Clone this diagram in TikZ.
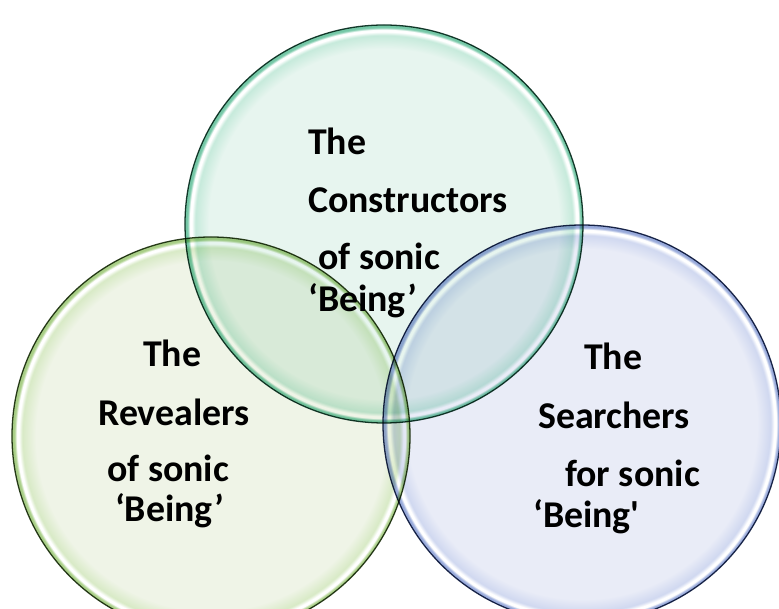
\documentclass[tikz,border=0pt]{standalone}
\usepackage{fontspec}
\setmainfont{Carlito}
\usetikzlibrary{positioning}
\definecolor{tealin}{HTML}{E7F5EF}
\definecolor{tealmid}{HTML}{C6EADB}
\definecolor{tealrim}{HTML}{74C7A6}
\definecolor{tealline}{HTML}{1B3F33}
\definecolor{greenin}{HTML}{EFF4E7}
\definecolor{greenmid}{HTML}{D8EAC6}
\definecolor{greenrim}{HTML}{A8CE86}
\definecolor{greenline}{HTML}{2E4020}
\definecolor{bluein}{HTML}{E9ECF7}
\definecolor{bluemid}{HTML}{D0D8F0}
\definecolor{bluerim}{HTML}{97A9DA}
\definecolor{blueline}{HTML}{1F2C4E}
\pgfdeclareradialshading{tealring}{\pgfpoint{0bp}{0bp}}{color(0bp)=(tealin); color(22bp)=(tealin); color(23.7bp)=(tealmid); color(24.15bp)=(white); color(24.4bp)=(white); color(24.7bp)=(tealrim); color(25bp)=(tealrim); color(50bp)=(tealrim)}
\pgfdeclareradialshading{greenring}{\pgfpoint{0bp}{0bp}}{color(0bp)=(greenin); color(22bp)=(greenin); color(23.7bp)=(greenmid); color(24.15bp)=(white); color(24.4bp)=(white); color(24.7bp)=(greenrim); color(25bp)=(greenrim); color(50bp)=(greenrim)}
\pgfdeclareradialshading{bluering}{\pgfpoint{0bp}{0bp}}{color(0bp)=(bluein); color(22bp)=(bluein); color(23.7bp)=(bluemid); color(24.15bp)=(white); color(24.4bp)=(white); color(24.7bp)=(bluerim); color(25bp)=(bluerim); color(50bp)=(bluerim)}
\tikzset{rim/.style = {draw = #1, line width = 1.1pt}}
\tikzset{lbl/.style = {anchor = base west, inner sep = 0, text depth = 0pt, font = \fontsize{32.3}{36}\selectfont\bfseries}}

\begin{document}
\begin{tikzpicture}[x = 0.03cm, y = 0.03cm]
    \useasboundingbox (0, 0) rectangle (779, 608);
    \fill [white] (0, 0) rectangle (779, 608);
    \clip (0, 0) rectangle (779, 608);

    \coordinate (ctop) at (384, 384);
    \coordinate (cleft) at (211, 172);
    \coordinate (cright) at (582, 184);

    \begin{scope}[blend mode = multiply]
    \shade [shading = tealring] (ctop) circle [radius = 5.97cm];
    \draw [rim = tealline] (ctop) circle [radius = 5.97cm];

    \node [lbl] (c1) at (308, 453) {The};
    \node [lbl] (c2) at (308, 395) {Constructors};
    \node [lbl] (c3) at (318, 338) {of sonic};
    \node [lbl] (c4) at (308, 296) {`Being'};

    \shade [shading = greenring] (cleft) circle [radius = 5.97cm];
    \draw [rim = greenline] (cleft) circle [radius = 5.97cm];

    \shade [shading = bluering] (cright) circle [radius = 5.97cm];
    \draw [rim = blueline] (cright) circle [radius = 5.97cm];
    \end{scope}

    \node [lbl] (r1) at (143, 241) {The};
    \node [lbl] (r2) at (98, 183) {Revealers};
    \node [lbl] (r3) at (107, 127) {of sonic};
    \node [lbl] (r4) at (115, 87) {`Being'};

    \node [lbl] (s1) at (584, 238) {The};
    \node [lbl] (s2) at (538, 180) {Searchers};
    \node [lbl] (s3) at (565, 121) {for sonic};
    \node [lbl] (s4) at (533, 81) {`Being\textquotesingle};
\end{tikzpicture}
\end{document}
